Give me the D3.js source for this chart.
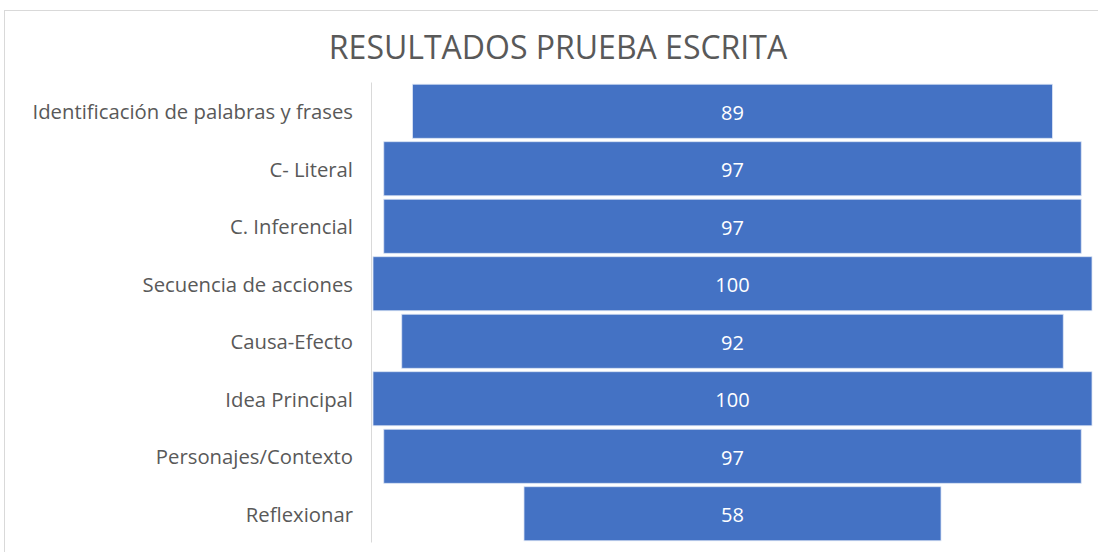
<!DOCTYPE html>
<html>
<head>
<meta charset="utf-8">
<script src="https://cdn.jsdelivr.net/npm/d3@7"></script>
<style>
    body { margin: 0; background: #fff; }
    svg { display: block; font-family: "Open Sans", "Noto Sans", sans-serif; }
    .chart-title { fill: #595959; font-size: 32px; }
    .cat-label { fill: #595959; font-size: 20.3px; }
    .value-label { fill: #fff; font-size: 20px; }
</style>
</head>
<body>
<div id="chart"></div>
<script>
    // Chart data.
const categories = [
    "Identificación de palabras y frases",
    "C- Literal",
    "C. Inferencial",
    "Secuencia de acciones",
    "Causa-Efecto",
    "Idea Principal",
    "Personajes/Contexto",
    "Reflexionar"
];
const values = [89, 97, 97, 100, 92, 100, 97, 58];
const chartTitle = "RESULTADOS PRUEBA ESCRITA";

const width = 1098;
const height = 552;

const svg = d3.select("#chart")
    .append("svg")
    .attr("width", width)
    .attr("height", height);

    // Light chart-area border, as in the spreadsheet export.
svg.append("rect")
    .attr("x", 4.5)
    .attr("y", 10.5)
    .attr("width", width + 10)
    .attr("height", height + 10)
    .attr("fill", "#fff")
    .attr("stroke", "#d9d9d9");

const data = categories.map((c, i) => ({ category: c, value: values[i] }));

    // Funnel layout: each bar is centred, so map [-50, 50] across the plot.
const x = d3.scaleLinear()
    .domain([-50, 50])
    .range([373, 1092]);

const y = d3.scaleBand()
    .domain(categories)
    .range([82.5, 542.5])
    .paddingInner(0.06)
    .paddingOuter(0.03);

    // Vertical category axis line.
svg.append("line")
    .attr("x1", 371.5)
    .attr("x2", 371.5)
    .attr("y1", 82.5)
    .attr("y2", 542.5)
    .attr("stroke", "#d9d9d9")
    .attr("stroke-width", 1);

svg.selectAll(".bar")
    .data(data)
    .join("rect")
    .attr("class", "bar")
    .attr("x", d => x(-d.value / 2))
    .attr("y", d => y(d.category))
    .attr("width", d => x(d.value / 2) - x(-d.value / 2))
    .attr("height", y.bandwidth())
    .attr("fill", "#4472c4")
    .attr("stroke", "#dbe4f4")
    .attr("stroke-width", 0.8);

svg.selectAll(".value-label")
    .data(data)
    .join("text")
    .attr("class", "value-label")
    .attr("x", x(0))
    .attr("y", d => y(d.category) + y.bandwidth() / 2)
    .attr("dy", "0.42em")
    .attr("text-anchor", "middle")
    .text(d => d.value);

svg.selectAll(".cat-label")
    .data(data)
    .join("text")
    .attr("class", "cat-label")
    .attr("x", 353)
    .attr("y", d => y(d.category) + y.bandwidth() / 2)
    .attr("dy", "0.4em")
    .attr("text-anchor", "end")
    .text(d => d.category);

svg.append("text")
    .attr("class", "chart-title")
    .attr("x", 558)
    .attr("y", 59)
    .attr("text-anchor", "middle")
    .text(chartTitle);
</script>
</body>
</html>
